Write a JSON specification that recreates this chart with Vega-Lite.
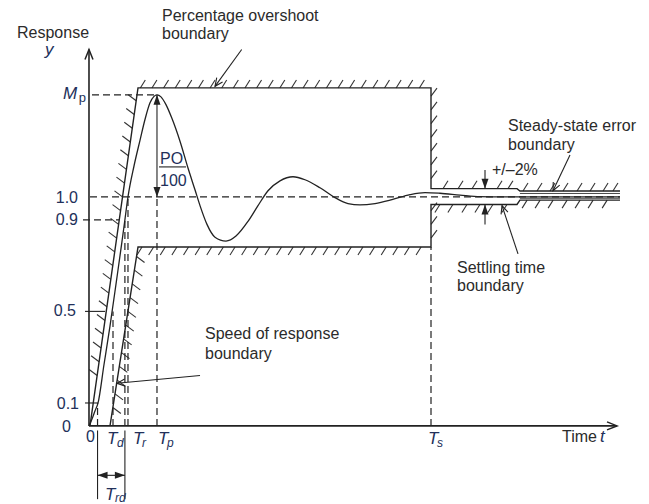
{
"$schema":"https://vega.github.io/schema/vega-lite/v6.json",
"width":649,"height":504,
"autosize":{"type":"fit","contains":"padding"},
"padding":0,
"background":"white",
"config":{"view":{"stroke":null},"text":{"font":"Liberation Sans"}},
"datasets":{
"curve":[{"t":0,"r":0},{"t":0.088,"r":0.03},{"t":0.175,"r":0.065},{"t":0.263,"r":0.099},{"t":0.439,"r":0.268},{"t":0.614,"r":0.436},{"t":0.8,"r":0.63},{"t":0.96,"r":0.8},{"t":1.05,"r":0.9},{"t":1.14,"r":1.0},{"t":1.316,"r":1.135},{"t":1.491,"r":1.247},{"t":1.637,"r":1.338},{"t":1.784,"r":1.411},{"t":1.901,"r":1.439},{"t":1.988,"r":1.446},{"t":2.105,"r":1.437},{"t":2.251,"r":1.403},{"t":2.427,"r":1.342},{"t":2.661,"r":1.243},{"t":2.895,"r":1.126},{"t":3.099,"r":1.031},{"t":3.246,"r":0.962},{"t":3.45,"r":0.88},{"t":3.684,"r":0.824},{"t":4.006,"r":0.807},{"t":4.298,"r":0.829},{"t":4.649,"r":0.893},{"t":4.942,"r":0.962},{"t":5.234,"r":1.027},{"t":5.585,"r":1.07},{"t":5.965,"r":1.088},{"t":6.316,"r":1.075},{"t":6.754,"r":1.04},{"t":7.193,"r":0.997},{"t":7.573,"r":0.971},{"t":7.924,"r":0.965},{"t":8.363,"r":0.971},{"t":8.86,"r":0.988},{"t":9.386,"r":1.01},{"t":9.825,"r":1.019},{"t":10.263,"r":1.016},{"t":10.848,"r":1.008},{"t":11.433,"r":1.001},{"t":12.018,"r":1.0},{"t":15.526,"r":1.0}],
"bounds":[
{"id":"u","k":1,"t":0.029,"r":0},{"id":"u","k":2,"t":1.433,"r":1.476},{"id":"u","k":3,"t":10,"r":1.476},{"id":"u","k":4,"t":10,"r":1.036},{"id":"u","k":5,"t":12.515,"r":1.036},{"id":"u","k":6,"t":12.6,"r":1.026},{"id":"u","k":7,"t":15.526,"r":1.026},
{"id":"l","k":1,"t":0.614,"r":0},{"id":"l","k":2,"t":1.433,"r":0.781},{"id":"l","k":3,"t":10,"r":0.781},{"id":"l","k":4,"t":10,"r":0.967},{"id":"l","k":5,"t":12.515,"r":0.967},{"id":"l","k":6,"t":12.6,"r":0.986},{"id":"l","k":7,"t":15.526,"r":0.986}],
"inner":[{"id":"a","k":1,"t":12.6,"r":1.015},{"id":"a","k":2,"t":15.526,"r":1.015},{"id":"b","k":1,"t":12.6,"r":0.994},{"id":"b","k":2,"t":15.526,"r":0.994}],
"hatch":[
{"side":"above","t":1.50,"r":1.476},{"side":"above","t":1.84,"r":1.476},{"side":"above","t":2.18,"r":1.476},{"side":"above","t":2.52,"r":1.476},{"side":"above","t":2.86,"r":1.476},{"side":"above","t":3.20,"r":1.476},{"side":"above","t":3.54,"r":1.476},{"side":"above","t":3.88,"r":1.476},{"side":"above","t":4.22,"r":1.476},{"side":"above","t":4.56,"r":1.476},{"side":"above","t":4.90,"r":1.476},{"side":"above","t":5.24,"r":1.476},{"side":"above","t":5.58,"r":1.476},{"side":"above","t":5.92,"r":1.476},{"side":"above","t":6.26,"r":1.476},{"side":"above","t":6.60,"r":1.476},{"side":"above","t":6.94,"r":1.476},{"side":"above","t":7.28,"r":1.476},{"side":"above","t":7.62,"r":1.476},{"side":"above","t":7.96,"r":1.476},{"side":"above","t":8.30,"r":1.476},{"side":"above","t":8.64,"r":1.476},{"side":"above","t":8.98,"r":1.476},{"side":"above","t":9.32,"r":1.476},{"side":"above","t":9.66,"r":1.476},
{"side":"above","t":10.35,"r":1.036},{"side":"above","t":10.79,"r":1.036},{"side":"above","t":11.2,"r":1.036},{"side":"above","t":11.93,"r":1.036},{"side":"above","t":12.25,"r":1.036},
{"side":"above","t":12.69,"r":1.026},{"side":"above","t":13.1,"r":1.026},{"side":"above","t":13.48,"r":1.026},{"side":"above","t":13.86,"r":1.026},{"side":"above","t":14.27,"r":1.026},{"side":"above","t":14.65,"r":1.026},{"side":"above","t":15.03,"r":1.026},{"side":"above","t":15.32,"r":1.026},
{"side":"below","t":1.55,"r":0.781},{"side":"below","t":1.89,"r":0.781},{"side":"below","t":2.23,"r":0.781},{"side":"below","t":2.57,"r":0.781},{"side":"below","t":2.91,"r":0.781},{"side":"below","t":3.25,"r":0.781},{"side":"below","t":3.59,"r":0.781},{"side":"below","t":3.93,"r":0.781},{"side":"below","t":4.27,"r":0.781},{"side":"below","t":4.61,"r":0.781},{"side":"below","t":4.95,"r":0.781},{"side":"below","t":5.29,"r":0.781},{"side":"below","t":5.63,"r":0.781},{"side":"below","t":5.97,"r":0.781},{"side":"below","t":6.31,"r":0.781},{"side":"below","t":6.65,"r":0.781},{"side":"below","t":6.99,"r":0.781},{"side":"below","t":7.33,"r":0.781},{"side":"below","t":7.67,"r":0.781},{"side":"below","t":8.01,"r":0.781},{"side":"below","t":8.35,"r":0.781},{"side":"below","t":8.69,"r":0.781},{"side":"below","t":9.03,"r":0.781},{"side":"below","t":9.37,"r":0.781},{"side":"below","t":9.71,"r":0.781},
{"side":"below","t":10.26,"r":0.967},{"side":"below","t":10.64,"r":0.967},{"side":"below","t":11.05,"r":0.967},{"side":"below","t":11.43,"r":0.967},{"side":"below","t":11.81,"r":0.967},{"side":"below","t":12.22,"r":0.967},
{"side":"below","t":12.81,"r":0.986},{"side":"below","t":13.19,"r":0.986},{"side":"below","t":13.57,"r":0.986},{"side":"below","t":13.98,"r":0.986},{"side":"below","t":14.36,"r":0.986},{"side":"below","t":14.74,"r":0.986},{"side":"below","t":15.15,"r":0.986},
{"side":"leftdiag","t":1.380,"r":1.42},{"side":"leftdiag","t":1.323,"r":1.36},{"side":"leftdiag","t":1.266,"r":1.30},{"side":"leftdiag","t":1.209,"r":1.24},{"side":"leftdiag","t":1.151,"r":1.18},{"side":"leftdiag","t":1.094,"r":1.12},{"side":"leftdiag","t":1.037,"r":1.06},{"side":"leftdiag","t":0.980,"r":1.00},{"side":"leftdiag","t":0.923,"r":0.94},{"side":"leftdiag","t":0.866,"r":0.88},{"side":"leftdiag","t":0.809,"r":0.82},{"side":"leftdiag","t":0.752,"r":0.76},{"side":"leftdiag","t":0.695,"r":0.70},{"side":"leftdiag","t":0.638,"r":0.64},{"side":"leftdiag","t":0.581,"r":0.58},{"side":"leftdiag","t":0.524,"r":0.52},{"side":"leftdiag","t":0.467,"r":0.46},{"side":"leftdiag","t":0.409,"r":0.40},{"side":"leftdiag","t":0.352,"r":0.34},{"side":"leftdiag","t":0.295,"r":0.28},{"side":"leftdiag","t":0.238,"r":0.22},
{"side":"rightdiag","t":1.390,"r":0.74},{"side":"rightdiag","t":1.327,"r":0.68},{"side":"rightdiag","t":1.264,"r":0.62},{"side":"rightdiag","t":1.201,"r":0.56},{"side":"rightdiag","t":1.138,"r":0.50},{"side":"rightdiag","t":1.075,"r":0.44},{"side":"rightdiag","t":1.013,"r":0.38},{"side":"rightdiag","t":0.950,"r":0.32},{"side":"rightdiag","t":0.887,"r":0.26},{"side":"rightdiag","t":0.824,"r":0.20},{"side":"rightdiag","t":0.761,"r":0.14},{"side":"rightdiag","t":0.698,"r":0.08},
{"side":"rightvert","t":10,"r":1.44},{"side":"rightvert","t":10,"r":1.38},{"side":"rightvert","t":10,"r":1.32},{"side":"rightvert","t":10,"r":1.26},{"side":"rightvert","t":10,"r":1.20},{"side":"rightvert","t":10,"r":1.14},{"side":"rightvert","t":10,"r":1.08},{"side":"rightvert","t":10,"r":0.94},{"side":"rightvert","t":10,"r":0.88},{"side":"rightvert","t":10,"r":0.82}],
"dashed":[{"t":0.03,"r":1,"t2":15.526,"r2":1},{"t":0.088,"r":1.446,"t2":1.988,"r2":1.446},{"t":-0.175,"r":0.9,"t2":0.877,"r2":0.9},{"t":1.988,"r":0,"t2":1.988,"r2":1.0},{"t":1.14,"r":0,"t2":1.14,"r2":1.0},{"t":1.05,"r":0,"t2":1.05,"r2":0.9},{"t":0.702,"r":0,"t2":0.702,"r2":0.5},{"t":0.25,"r":0,"t2":0.25,"r2":0.1},{"t":10,"r":0,"t2":10,"r2":0.781}],
"solid":[{"t":-0.117,"r":0.5,"t2":0.47,"r2":0.5},{"t":-0.117,"r":0.1,"t2":0.263,"r2":0.1},{"t":0.25,"r":-0.02,"t2":0.25,"r2":-0.32},{"t":1.05,"r":-0.02,"t2":1.05,"r2":-0.32},{"t":0.25,"r":-0.216,"t2":1.05,"r2":-0.216},{"t":1.988,"r":1.0,"t2":1.988,"r2":1.446},{"t":2.047,"r":1.131,"t2":2.836,"r2":1.131},{"t":11.579,"r":1.118,"t2":11.579,"r2":1.036},{"t":11.579,"r":0.88,"t2":11.579,"r2":0.967},{"t":4.465,"r":1.644,"t2":3.684,"r2":1.483},{"t":14.064,"r":1.183,"t2":13.567,"r2":1.027},{"t":12.544,"r":0.751,"t2":12.076,"r2":0.962},{"t":3.246,"r":0.22,"t2":0.819,"r2":0.186}],
"axes":[{"t":0,"r":0,"t2":0,"r2":1.644},{"t":0,"r":0,"t2":15.439,"r2":0}],
"arrowsFilled":[{"t":1.988,"r":1.446,"ang":0},{"t":1.988,"r":1.0,"ang":180},{"t":0.25,"r":-0.216,"ang":270},{"t":1.05,"r":-0.216,"ang":90},{"t":11.579,"r":1.036,"ang":180},{"t":11.579,"r":0.967,"ang":0}],
"axisHeads":[{"t":0,"r":1.644,"ang":0},{"t":15.439,"r":0,"ang":90}],
"leaderHeads":[{"t":3.684,"r":1.483,"ang":215.6},{"t":13.567,"r":1.027,"ang":205.9},{"t":12.076,"r":0.962,"ang":341.9},{"t":0.819,"r":0.186,"ang":264.5}],
"notes":[{"label":"Response","t":-2.105,"r":1.696},{"label":"Percentage overshoot","t":2.135,"r":1.77},{"label":"boundary","t":2.135,"r":1.688},{"label":"Steady-state error","t":12.251,"r":1.286},{"label":"boundary","t":12.251,"r":1.204},{"label":"+/–2%","t":11.784,"r":1.096},{"label":"Settling time","t":10.76,"r":0.669},{"label":"boundary","t":10.76,"r":0.587},{"label":"Speed of response","t":3.392,"r":0.38},{"label":"boundary","t":3.392,"r":0.293},{"label":"Time","t":13.83,"r":-0.069}],
"ticks":[{"label":"1.0","t":-0.322,"r":0.975},{"label":"0.9","t":-0.322,"r":0.876},{"label":"0.5","t":-0.38,"r":0.479},{"label":"0.1","t":-0.292,"r":0.073},{"label":"0","t":-0.526,"r":-0.026},{"label":"0","t":0.175,"r":-0.069}],
"fraction":[{"label":"PO","t":2.076,"r":1.144},{"label":"100","t":2.076,"r":1.049}],
"symbols":[{"label":"y","t":-1.287,"r":1.618},{"label":"M","t":-0.76,"r":1.429},{"label":"T","t":0.526,"r":-0.078},{"label":"T","t":1.287,"r":-0.078},{"label":"T","t":2.018,"r":-0.078},{"label":"T","t":9.912,"r":-0.078},{"label":"t","t":14.942,"r":-0.069},{"label":"T","t":0.468,"r":-0.324}],
"subs":[{"label":"d","t":0.819,"r":-0.091},{"label":"r","t":1.55,"r":-0.091},{"label":"p","t":2.281,"r":-0.091},{"label":"s","t":10.175,"r":-0.091},{"label":"rd","t":0.76,"r":-0.332}],
"subsUpright":[{"label":"p","t":-0.3,"r":1.416}]
},
"encoding":{
"x":{"field":"t","type":"quantitative","scale":{"domain":[-2.602,16.374],"nice":false,"zero":false},"axis":null},
"y":{"field":"r","type":"quantitative","scale":{"domain":[-0.315,1.86],"nice":false,"zero":false},"axis":null}
},
"layer":[
{"data":{"name":"hatch"},"transform":[{"filter":"datum.side==='above'"}],"mark":{"type":"rule","color":"#333","strokeWidth":1.1,"x2Offset":5,"y2Offset":-8},"encoding":{"x2":{"field":"t"},"y2":{"field":"r"}}},
{"data":{"name":"hatch"},"transform":[{"filter":"datum.side==='below'"}],"mark":{"type":"rule","color":"#333","strokeWidth":1.1,"x2Offset":-5,"y2Offset":8},"encoding":{"x2":{"field":"t"},"y2":{"field":"r"}}},
{"data":{"name":"hatch"},"transform":[{"filter":"datum.side==='leftdiag'"}],"mark":{"type":"rule","color":"#333","strokeWidth":1.1,"x2Offset":-8,"y2Offset":-6},"encoding":{"x2":{"field":"t"},"y2":{"field":"r"}}},
{"data":{"name":"hatch"},"transform":[{"filter":"datum.side==='rightdiag'"}],"mark":{"type":"rule","color":"#333","strokeWidth":1.1,"x2Offset":8,"y2Offset":6},"encoding":{"x2":{"field":"t"},"y2":{"field":"r"}}},
{"data":{"name":"hatch"},"transform":[{"filter":"datum.side==='rightvert'"}],"mark":{"type":"rule","color":"#333","strokeWidth":1.1,"x2Offset":6,"y2Offset":-8},"encoding":{"x2":{"field":"t"},"y2":{"field":"r"}}},
{"data":{"name":"bounds"},"mark":{"type":"line","color":"#222","strokeWidth":1.4},"encoding":{"detail":{"field":"id"},"order":{"field":"k"}}},
{"data":{"name":"inner"},"mark":{"type":"line","color":"#333","strokeWidth":0.9},"encoding":{"detail":{"field":"id"},"order":{"field":"k"}}},
{"data":{"name":"dashed"},"mark":{"type":"rule","color":"#222","strokeWidth":1.2,"strokeDash":[7,4]},"encoding":{"x2":{"field":"t2"},"y2":{"field":"r2"}}},
{"data":{"name":"solid"},"mark":{"type":"rule","color":"#222","strokeWidth":1.1},"encoding":{"x2":{"field":"t2"},"y2":{"field":"r2"}}},
{"data":{"name":"axes"},"mark":{"type":"rule","color":"#222","strokeWidth":1.6},"encoding":{"x2":{"field":"t2"},"y2":{"field":"r2"}}},
{"data":{"name":"curve"},"mark":{"type":"line","color":"#222","strokeWidth":1.3,"interpolate":"monotone"},"encoding":{}},
{"data":{"name":"arrowsFilled"},"mark":{"type":"point","shape":"M0,0L-0.35,1L0.35,1Z","filled":true,"color":"#222","size":400,"opacity":1,"strokeWidth":0},"encoding":{"angle":{"field":"ang","type":"quantitative","scale":null}}},
{"data":{"name":"axisHeads"},"mark":{"type":"point","shape":"M-0.4,1L0,0L0.4,1","filled":false,"color":"#222","size":400,"opacity":1,"strokeWidth":1.5},"encoding":{"angle":{"field":"ang","type":"quantitative","scale":null}}},
{"data":{"name":"leaderHeads"},"mark":{"type":"point","shape":"M-0.45,1L0,0L0.45,1","filled":false,"color":"#222","size":256,"opacity":1,"strokeWidth":1.1},"encoding":{"angle":{"field":"ang","type":"quantitative","scale":null}}},
{"data":{"name":"notes"},"mark":{"type":"text","align":"left","baseline":"alphabetic","fontSize":16,"color":"#2b2b2b"},"encoding":{"text":{"field":"label"}}},
{"data":{"name":"ticks"},"mark":{"type":"text","align":"right","baseline":"alphabetic","fontSize":16,"color":"#22305a"},"encoding":{"text":{"field":"label"}}},
{"data":{"name":"fraction"},"mark":{"type":"text","align":"left","baseline":"alphabetic","fontSize":16,"color":"#22305a"},"encoding":{"text":{"field":"label"}}},
{"data":{"name":"symbols"},"mark":{"type":"text","align":"left","baseline":"alphabetic","fontSize":17,"fontStyle":"italic","color":"#22305a"},"encoding":{"text":{"field":"label"}}},
{"data":{"name":"subs"},"mark":{"type":"text","align":"left","baseline":"alphabetic","fontSize":12,"fontStyle":"italic","color":"#22305a"},"encoding":{"text":{"field":"label"}}},
{"data":{"name":"subsUpright"},"mark":{"type":"text","align":"left","baseline":"alphabetic","fontSize":13,"color":"#22305a"},"encoding":{"text":{"field":"label"}}}
]
}
